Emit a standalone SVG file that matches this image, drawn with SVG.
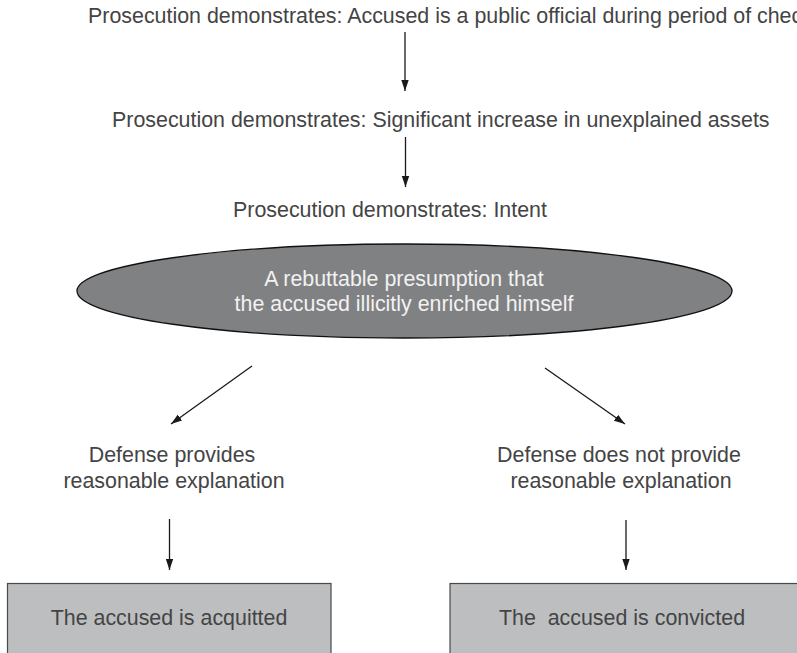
<svg xmlns="http://www.w3.org/2000/svg" width="797" height="653" viewBox="0 0 797 653">
<style>
.t{font-family:"Liberation Sans",Arial,sans-serif;font-size:21.4px;fill:#444}
.w{fill:#f2f2f2}
.c{stroke:#1a1a1a;stroke-width:1.3;fill:none}
.box{fill:#bdbec0;stroke:#4a4a4a;stroke-width:1.2}
</style>
<defs>
<marker id="ah" viewBox="0 0 11 10" refX="11" refY="5" markerWidth="11" markerHeight="10" markerUnits="userSpaceOnUse" orient="auto">
<path d="M0,1.3 L11,5 L0,8.7 Z" fill="#1a1a1a"/>
</marker>
</defs>
<rect width="797" height="653" fill="#fff"/>
<g id="n1"><text class="t" x="88" y="23">Prosecution demonstrates: Accused is a public official during period of chec</text></g>
<g id="n2"><text class="t" x="112" y="127">Prosecution demonstrates: Significant increase in unexplained assets</text></g>
<g id="n3"><text class="t" x="233" y="217">Prosecution demonstrates: Intent</text></g>
<g id="n4">
<ellipse cx="404.5" cy="291" rx="327.5" ry="47" fill="#808183" stroke="#111" stroke-width="1.3"/>
<text class="t w" x="404" y="286" text-anchor="middle">A rebuttable presumption that</text>
<text class="t w" x="404" y="311" text-anchor="middle">the accused illicitly enriched himself</text>
</g>
<g id="n5">
<text class="t" x="172" y="462" text-anchor="middle">Defense provides</text>
<text class="t" x="174" y="488" text-anchor="middle">reasonable explanation</text>
</g>
<g id="n6">
<text class="t" x="619" y="462" text-anchor="middle">Defense does not provide</text>
<text class="t" x="621" y="488" text-anchor="middle">reasonable explanation</text>
</g>
<g id="n7">
<rect class="box" x="7.5" y="583.5" width="323.5" height="80"/>
<text class="t" x="169" y="625" text-anchor="middle">The accused is acquitted</text>
</g>
<g id="n8">
<rect class="box" x="450" y="583.5" width="360" height="80"/>
<text class="t" x="622" y="625" text-anchor="middle" xml:space="preserve">The  accused is convicted</text>
</g>
<g id="connectors">
<line class="c" x1="405" y1="32" x2="405" y2="91" marker-end="url(#ah)"/>
<line class="c" x1="405.5" y1="137" x2="405.5" y2="187" marker-end="url(#ah)"/>
<line class="c" x1="252" y1="366" x2="171" y2="424" marker-end="url(#ah)"/>
<line class="c" x1="545" y1="368" x2="625" y2="424" marker-end="url(#ah)"/>
<line class="c" x1="169.5" y1="519" x2="169.5" y2="570" marker-end="url(#ah)"/>
<line class="c" x1="626" y1="520" x2="626" y2="570" marker-end="url(#ah)"/>
</g>
</svg>
